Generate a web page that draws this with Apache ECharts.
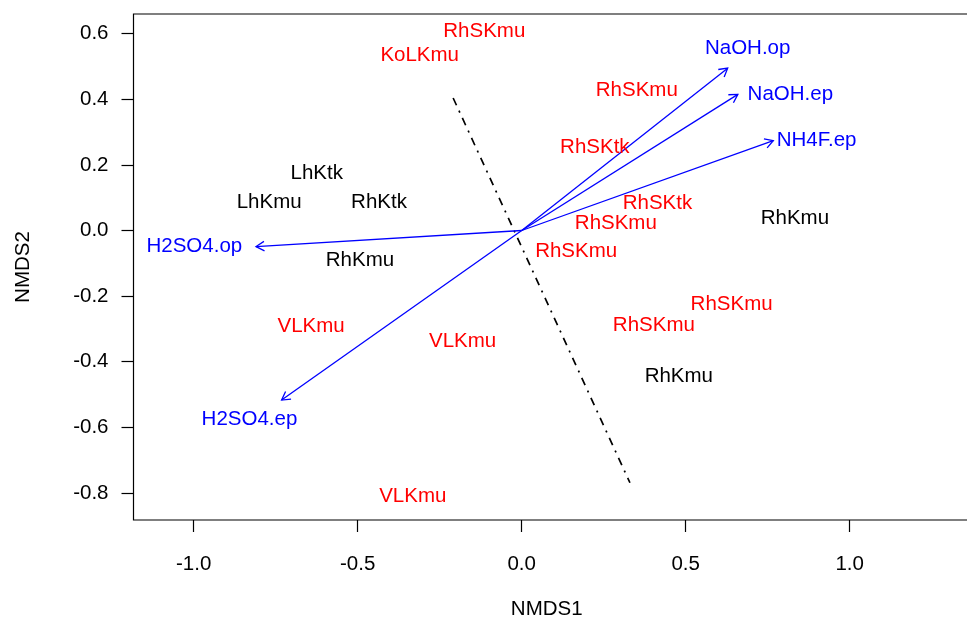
<!DOCTYPE html>
<html>
<head>
<meta charset="utf-8">
<script src="https://cdn.jsdelivr.net/npm/echarts@6/dist/echarts.min.js"></script>
<style>html,body{margin:0;padding:0;background:#fff}#c{width:967px;height:620px}</style>
</head>
<body>
<div id="c"></div>
<script>
// Site scores (black)
var blackNames = ['LhKtk', 'LhKmu', 'RhKtk', 'RhKmu', 'RhKmu', 'RhKmu'];
var blackX = [-0.625, -0.770, -0.435, -0.493, 0.833, 0.479];
var blackY = [0.174, 0.085, 0.085, -0.090, 0.037, -0.446];

// Site scores (red)
var redNames = ['RhSKmu', 'KoLKmu', 'RhSKmu', 'RhSKtk', 'RhSKtk', 'RhSKmu', 'RhSKmu', 'RhSKmu', 'RhSKmu', 'VLKmu', 'VLKmu', 'VLKmu'];
var redX = [-0.114, -0.311, 0.351, 0.223, 0.414, 0.287, 0.166, 0.640, 0.403, -0.642, -0.180, -0.332];
var redY = [0.606, 0.535, 0.428, 0.255, 0.083, 0.022, -0.063, -0.224, -0.288, -0.293, -0.339, -0.809];

// Fitted vectors (blue): arrow tips and label positions
var vectorNames = ['NaOH.op', 'NaOH.ep', 'NH4F.ep', 'H2SO4.op', 'H2SO4.ep'];
var vectorX = [0.628, 0.659, 0.767, -0.810, -0.732];
var vectorY = [0.495, 0.415, 0.274, -0.049, -0.517];
var vectorLabelX = [0.689, 0.819, 0.899, -0.998, -0.830];
var vectorLabelY = [0.555, 0.415, 0.276, -0.049, -0.576];

// Dot-dash line end points
var lineX = [-0.209, 0.330];
var lineY = [0.404, -0.769];

// Axis ticks
var xTicks = [-1.0, -0.5, 0.0, 0.5, 1.0];
var yTicks = [0.6, 0.4, 0.2, 0.0, -0.2, -0.4, -0.6, -0.8];

var FONT = 'Liberation Sans, Arial, Helvetica, sans-serif';
var FS = 20.5;

function pts(xs, ys, names) {
  return xs.map(function (x, i) { return { value: [x, ys[i]], name: names[i] }; });
}

var chart = echarts.init(document.getElementById('c'), null, { renderer: 'canvas' });

function labelSeries(xs, ys, names, color) {
  return {
    type: 'scatter',
    data: pts(xs, ys, names),
    symbolSize: 0,
    itemStyle: { opacity: 1 },
    label: { show: true, position: 'inside', formatter: '{b}', color: color, opacity: 1, fontFamily: FONT, fontSize: FS },
    emphasis: { disabled: true },
    silent: true, z: 4
  };
}

var option = {
  backgroundColor: '#ffffff',
  animation: false,
  grid: {
    left: 133.5, top: 14, right: -3, bottom: 100,
    outerBoundsMode: 'none', containLabel: false,
    show: true, borderColor: '#000', borderWidth: 1.2, backgroundColor: 'transparent'
  },
  xAxis: {
    type: 'value',
    min: -1.18354, max: 1.36677,
    splitLine: { show: false },
    axisLine: { show: false, onZero: false },
    axisTick: { show: true, inside: false, length: 12, customValues: xTicks, lineStyle: { color: '#000', width: 1.2 } },
    axisLabel: {
      customValues: xTicks, margin: 34, color: '#000', fontFamily: FONT, fontSize: FS,
      formatter: function (v) { return v.toFixed(1); }
    },
    name: 'NMDS1', nameLocation: 'middle', nameGap: 79,
    nameTextStyle: { color: '#000', fontFamily: FONT, fontSize: FS, padding: [0, 10, 0, 0] }
  },
  yAxis: {
    type: 'value',
    min: -0.88262, max: 0.66006,
    splitLine: { show: false },
    axisLine: { show: false, onZero: false },
    axisTick: { show: true, inside: false, length: 12, customValues: yTicks, lineStyle: { color: '#000', width: 1.2 } },
    axisLabel: {
      customValues: yTicks, margin: 25, color: '#000', fontFamily: FONT, fontSize: FS,
      formatter: function (v) { return v.toFixed(1); }
    },
    name: 'NMDS2', nameLocation: 'middle', nameGap: 100,
    nameTextStyle: { color: '#000', fontFamily: FONT, fontSize: FS }
  },
  series: [
    {
      type: 'line',
      data: lineX.map(function (x, i) { return [x, lineY[i]]; }),
      showSymbol: false, symbol: 'none',
      lineStyle: { color: '#000', width: 1.7, type: [8, 6, 2, 6] },
      silent: true, z: 2
    },
    {
      type: 'custom',
      data: vectorX.map(function (x, i) { return [x, vectorY[i]]; }),
      renderItem: function (params, api) {
        var tip = api.coord([api.value(0), api.value(1)]);
        var o = api.coord([0, 0]);
        var ang = Math.atan2(tip[1] - o[1], tip[0] - o[0]);
        var L = 9.5, a = Math.PI / 6;
        var h1 = [tip[0] - L * Math.cos(ang - a), tip[1] - L * Math.sin(ang - a)];
        var h2 = [tip[0] - L * Math.cos(ang + a), tip[1] - L * Math.sin(ang + a)];
        var st = { stroke: '#0000ff', lineWidth: 1.3, fill: null };
        return {
          type: 'group',
          children: [
            { type: 'line', shape: { x1: o[0], y1: o[1], x2: tip[0], y2: tip[1] }, style: st },
            { type: 'polyline', shape: { points: [h1, tip, h2] }, style: st }
          ]
        };
      },
      silent: true, z: 3
    },
    labelSeries(blackX, blackY, blackNames, '#000000'),
    labelSeries(redX, redY, redNames, '#ff0000'),
    labelSeries(vectorLabelX, vectorLabelY, vectorNames, '#0000ff')
  ]
};
chart.setOption(option);
</script>
</body>
</html>
